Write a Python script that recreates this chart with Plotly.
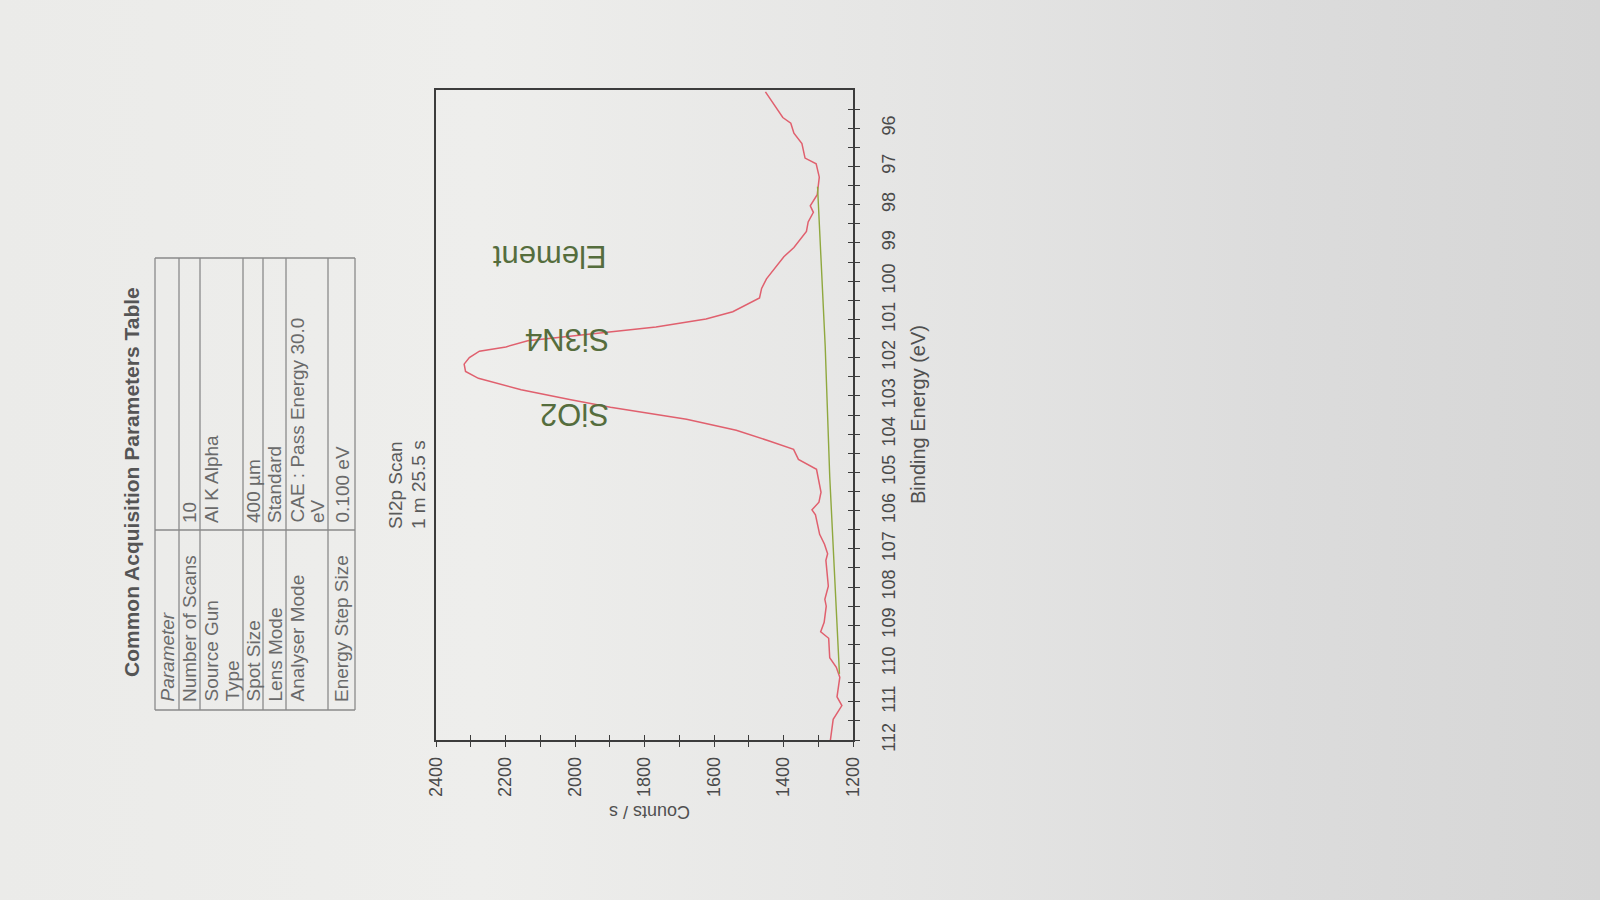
import base64
import plotly.graph_objects as go

# ---------------- data ----------------
binding_energy = [112.0, 111.46, 111.10, 110.87, 110.36, 110.10, 109.85, 109.34, 109.17, 108.92,
                  108.50, 108.32, 107.98, 107.64, 107.30, 107.13, 106.88, 106.62, 106.11, 105.98,
                  105.78, 105.52, 105.09, 104.92, 104.66, 104.40, 104.18, 103.90, 103.61, 103.41,
                  103.30, 103.10, 102.84, 102.54, 102.36, 102.17, 102.00, 101.83, 101.72, 101.56,
                  101.33, 101.20, 100.99, 100.80, 100.44, 100.19, 99.94, 99.36, 99.12, 98.70,
                  98.45, 98.20, 98.03, 97.74, 97.28, 96.93, 96.78, 96.40, 96.13, 95.87, 95.72, 95.05]
counts = [1265, 1257, 1232, 1246, 1238, 1248, 1267, 1270, 1293, 1283,
          1277, 1281, 1271, 1274, 1278, 1273, 1282, 1296, 1308, 1318,
          1298, 1292, 1301, 1305, 1357, 1371, 1441, 1536, 1679, 1822,
          1898, 2012, 2155, 2278, 2315, 2319, 2304, 2275, 2199, 2136,
          1911, 1767, 1623, 1546, 1469, 1463, 1449, 1399, 1370, 1334,
          1329, 1314, 1323, 1303, 1297, 1306, 1338, 1347, 1370, 1379, 1402, 1452]

background_be = [97.53, 101.70, 105.10, 110.27]
background_counts = [1302, 1280, 1267, 1239]

peak_labels = ["SiO2", "Si3N4", "Element"]
peak_be = [103.47, 101.51, 99.36]
peak_counts = [2003, 2021, 2074]

counts_ticks = list(range(1200, 2401, 100))
counts_ticktext = [str(v) if v % 200 == 0 else "" for v in counts_ticks]
be_ticks = [95.5 + 0.5 * i for i in range(34)]
be_ticktext = [str(int(v)) if float(v).is_integer() else "" for v in be_ticks]

table_title = "Common Acquisition Parameters Table"
table_header = "Parameter"
table_names = ["Number of Scans", "Source Gun", "Type", "Spot Size", "Lens Mode",
               "Analyser Mode", "Energy Step Size"]
table_values = ["10", "Al K Alpha", "400 µm", "Standard", "CAE : Pass Energy 30.0", "eV", "0.100 eV"]

scan_title = ["SI2p Scan", "1 m 25.5 s"]
x_title = "Counts / s"
y_title = "Binding Energy (eV)"

# ---------------- layout geometry ----------------
W, H = 1600, 900
L, R, T, B = 436, 747, 90, 160
PW, PH = W - L - R, H - T - B
FONT = "Liberation Sans, Arial, sans-serif"
AX = "#3c3c3c"


def X(px):
    return (px - L) / PW


def Y(py):
    return (H - B - py) / PH


def note(text, px, py, angle, size, color, xa="center", ya="middle"):
    return dict(text=text, x=X(px), y=Y(py), xref="paper", yref="paper", showarrow=False,
                textangle=angle, xanchor=xa, yanchor=ya,
                font=dict(family=FONT, size=size, color=color))


fig = go.Figure()
fig.add_trace(go.Scatter(x=counts, y=binding_energy, mode="lines",
                         line=dict(color="#e0606e", width=1.5),
                         xaxis="x", yaxis="y", hoverinfo="skip", showlegend=False))
fig.add_trace(go.Scatter(x=background_counts, y=background_be, mode="lines",
                         line=dict(color="#8fa83e", width=1.4),
                         xaxis="x2", yaxis="y2", hoverinfo="skip", showlegend=False))

ann = []
for t, b, c in zip(peak_labels, peak_be, peak_counts):
    ann.append(dict(text=t, x=c, y=b, xref="x", yref="y", showarrow=False, textangle=180,
                    xanchor="center", yanchor="middle",
                    font=dict(family=FONT, size=31, color="#556d3d")))

ann.append(note(x_title, 650, 812, 180, 18, "#505050"))
ann.append(note(y_title, 918, 415, -90, 20, "#505050"))
for t, px in zip(scan_title, [395, 418]):
    ann.append(note(t, px, 485, -90, 19, "#5a5a5a"))

# table
ann.append(note("<b>" + table_title + "</b>", 131, 482, -90, 21, "#555555"))
name_x = [189.5, 211, 232, 253, 274.5, 297, 341.5]
value_x = [189.5, 211, 253, 274.5, 297, 317, 341.5]
ann.append(note("<i>" + table_header + "</i>", 167, 704, -90, 19, "#6a6a6a", ya="bottom"))
for t, px in zip(table_names, name_x):
    ann.append(note(t, px, 704, -90, 19, "#6a6a6a", ya="bottom"))
for t, px in zip(table_values, value_x):
    ann.append(note(t, px, 525, -90, 19, "#6a6a6a", ya="bottom"))

shapes = []
tab_top, tab_bot, tab_div = 258, 710, 530
row_lines = [155, 179, 200, 243, 263, 286, 328, 355]
for px in row_lines:
    shapes.append(dict(type="line", xref="paper", yref="paper", x0=X(px), x1=X(px),
                       y0=Y(tab_top), y1=Y(tab_bot), line=dict(color="#8a8a8a", width=1.3)))
for py in [tab_top, tab_bot, tab_div]:
    shapes.append(dict(type="line", xref="paper", yref="paper", x0=X(row_lines[0]), x1=X(row_lines[-1]),
                       y0=Y(py), y1=Y(py), line=dict(color="#8a8a8a", width=1.3)))

svg = ('<svg xmlns="http://www.w3.org/2000/svg" width="1600" height="900">'
       '<defs><linearGradient id="g" x1="0" y1="0" x2="1" y2="0">'
       '<stop offset="0" stop-color="#ebebe9"/><stop offset="0.3" stop-color="#eeeeec"/>'
       '<stop offset="0.55" stop-color="#e6e6e5"/><stop offset="0.8" stop-color="#dcdcdc"/>'
       '<stop offset="1" stop-color="#d6d6d6"/></linearGradient></defs>'
       '<rect width="1600" height="900" fill="url(#g)"/></svg>')
src = "data:image/svg+xml;base64," + base64.b64encode(svg.encode()).decode()

axis_common = dict(showgrid=False, zeroline=False, tickcolor=AX, tickwidth=1.3, ticklen=5)
fig.update_layout(
    width=W, height=H,
    margin=dict(l=L, r=R, t=T, b=B, pad=0),
    paper_bgcolor="#e6e6e4", plot_bgcolor="rgba(0,0,0,0)",
    showlegend=False,
    xaxis=dict(range=[2400, 1200], tickmode="array", tickvals=counts_ticks, ticktext=counts_ticktext,
               ticks="outside", tickangle=-90, showline=True, linecolor=AX, linewidth=1.5, mirror=True,
               anchor="y", ticklabelstandoff=3,
               tickfont=dict(family=FONT, size=18, color="#4a4a4a"), **axis_common),
    yaxis=dict(range=[112, 95], side="right", tickmode="array", tickvals=be_ticks, ticktext=be_ticktext,
               ticks="outside", tickangle=-90, showline=True, linecolor=AX, linewidth=1.5, mirror=True,
               anchor="x", ticklabelstandoff=14,
               tickfont=dict(family=FONT, size=18, color="#4a4a4a"), **axis_common),
    xaxis2=dict(range=[2400, 1200], overlaying="x", anchor="y", side="bottom", tickmode="array",
                tickvals=counts_ticks, ticks="inside", showticklabels=False, showline=False, **axis_common),
    yaxis2=dict(range=[112, 95], overlaying="y", anchor="x", side="right", tickmode="array",
                tickvals=be_ticks, ticks="inside", showticklabels=False, showline=False, **axis_common),
    annotations=ann,
    shapes=shapes,
    images=[dict(source=src, xref="paper", yref="paper", x=X(0), y=Y(0), xanchor="left", yanchor="top",
                 sizex=W / PW, sizey=H / PH, sizing="stretch", layer="below")],
)

fig.write_html("out.html", config={"displayModeBar": False},
               post_script="document.body.style.margin='0';document.body.style.overflow='hidden';")
